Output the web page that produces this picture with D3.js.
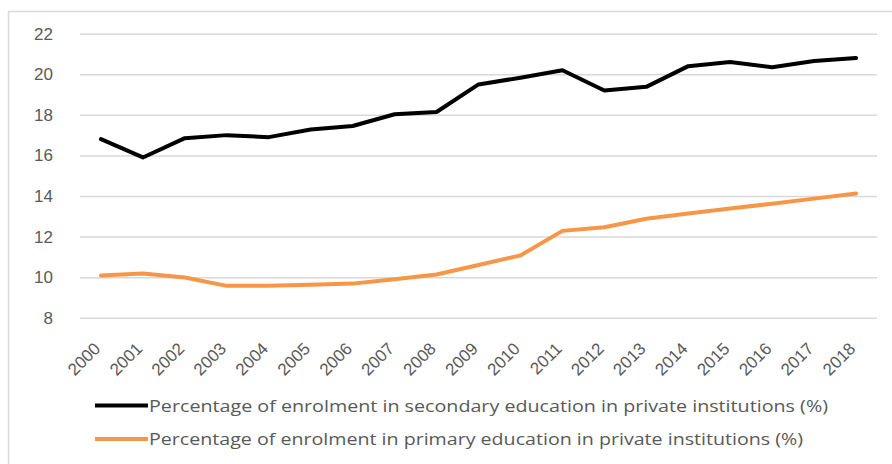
<!DOCTYPE html>
<html>
<head>
<meta charset="utf-8">
<script src="https://cdn.jsdelivr.net/npm/d3@7"></script>
<style>
  body { margin: 0; background: #fff; }
  svg { display: block; font-family: "Open Sans", "Liberation Sans", sans-serif; }
</style>
</head>
<body>
<div class="chart"></div>
<script>
const years = ["2000","2001","2002","2003","2004","2005","2006","2007","2008","2009",
               "2010","2011","2012","2013","2014","2015","2016","2017","2018"];
const secondary = [16.8, 15.9, 16.85, 17.0, 16.9, 17.28, 17.45, 18.03, 18.14, 19.5,
                   19.83, 20.2, 19.2, 19.38, 20.4, 20.6, 20.35, 20.65, 20.8];
const primary = [10.08, 10.18, 9.98, 9.57, 9.57, 9.62, 9.68, 9.9, 10.13, 10.6,
                 11.07, 12.28, 12.46, 12.88, 13.14, 13.38, 13.62, 13.87, 14.12];
const yTicks = [8, 10, 12, 14, 16, 18, 20, 22];
const seriesNames = [
  "Percentage of enrolment in secondary education in private institutions (%)",
  "Percentage of enrolment in primary education in private institutions (%)"
];

const W = 892, H = 464;
const margin = {top: 33.7, right: 15, bottom: 146.3, left: 80};
const width = W - margin.left - margin.right,
      height = H - margin.top - margin.bottom;

const svg = d3.select(".chart").append("svg")
    .attr("width", W)
    .attr("height", H);

// outer frame
svg.append("rect")
    .attr("x", 8.5).attr("y", 11.5)
    .attr("width", 900).attr("height", 500)
    .attr("fill", "none")
    .attr("stroke", "#d9d9d9")
    .attr("stroke-width", 1.5);

const g = svg.append("g")
    .attr("transform", `translate(${margin.left},${margin.top})`);

const xScale = d3.scalePoint()
    .domain(years)
    .range([0, width])
    .padding(0.5);

const yScale = d3.scaleLinear()
    .domain([8, 22])
    .range([height, 0]);

// gridlines + y labels
const yAxis = d3.axisLeft(yScale)
    .tickValues(yTicks)
    .tickSize(-width)
    .tickPadding(27);

g.append("g")
    .attr("class", "axis y-axis")
    .call(yAxis)
    .call(a => a.select(".domain").remove())
    .call(a => a.selectAll("line").attr("stroke", "#d9d9d9").attr("stroke-width", 1.5))
    .call(a => a.selectAll("text")
        .attr("fill", "#595959")
        .style("font-size", "17px"));

// x labels, rotated
const xAxis = d3.axisBottom(xScale).tickSize(0);
g.append("g")
    .attr("class", "axis x-axis")
    .attr("transform", `translate(0, ${height})`)
    .call(xAxis)
    .call(a => a.select(".domain").remove())
    .call(a => a.selectAll("text")
        .attr("fill", "#595959")
        .style("font-size", "17px")
        .attr("text-anchor", "end")
        .attr("dy", null)
        .attr("y", 0)
        .attr("transform", "translate(0,32) rotate(-45)"));

const line = d3.line()
    .x((d, i) => xScale(years[i]))
    .y(d => yScale(d));

const colors = ["#000000", "#F79646"];
[secondary, primary].forEach((s, k) => {
  g.append("path")
      .datum(s)
      .attr("fill", "none")
      .attr("stroke", colors[k])
      .attr("stroke-width", 4)
      .attr("stroke-linejoin", "round")
      .attr("stroke-linecap", "round")
      .attr("d", line);
});

// legend
const legendY = [405.5, 439];
const textLen = [679, 654];
const legend = svg.append("g").attr("class", "legend");
seriesNames.forEach((name, k) => {
  legend.append("line")
      .attr("x1", 95).attr("x2", 148)
      .attr("y1", legendY[k]).attr("y2", legendY[k])
      .attr("stroke", colors[k])
      .attr("stroke-width", 4);
  legend.append("text")
      .attr("x", 149)
      .attr("y", legendY[k] + 6)
      .attr("fill", "#595959")
      .style("font-size", "17px")
      .attr("textLength", textLen[k])
      .attr("lengthAdjust", "spacingAndGlyphs")
      .text(name);
});
</script>
</body>
</html>
